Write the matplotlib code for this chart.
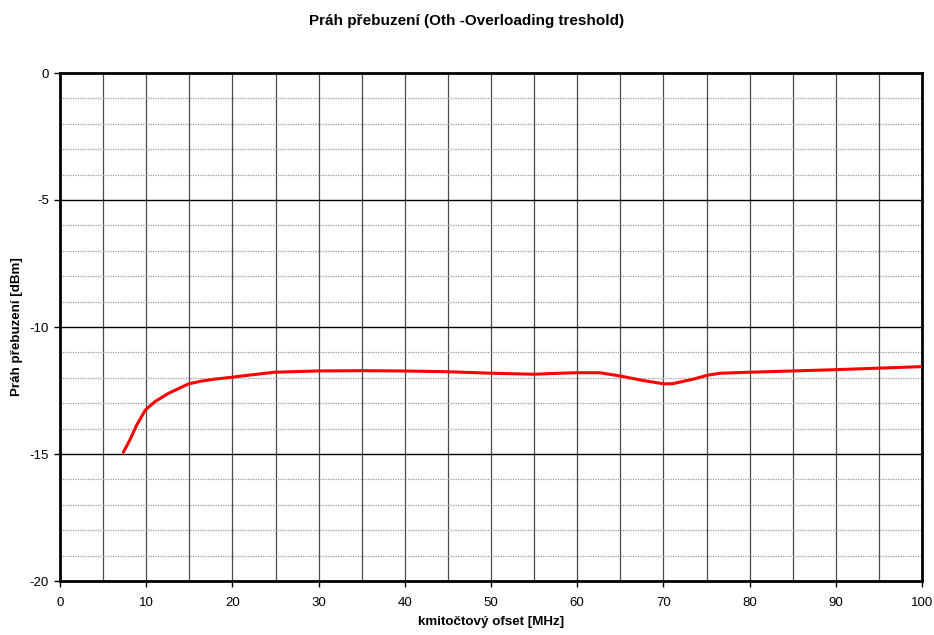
import numpy as np
import matplotlib.pyplot as plt
from matplotlib.ticker import MultipleLocator

plt.rcParams['font.family'] = ['Liberation Sans', 'DejaVu Sans']
plt.rcParams['axes.unicode_minus'] = False

# odečtené hodnoty z grafu
offset_mhz = [7.35, 8.1, 8.9, 9.9, 11.0, 12.6, 14.9, 16.4, 18.0, 19.9, 21.3, 24.9, 30, 35,
              39.4, 45, 50, 55, 58, 60, 62.6, 65, 67.7, 70.1, 71.1, 73.5, 75.1, 76.6, 80.1,
              90, 100]
prah_dbm = [-14.93, -14.45, -13.86, -13.27, -12.94, -12.61, -12.24, -12.13, -12.05, -11.98,
            -11.92, -11.78, -11.73, -11.72, -11.73, -11.76, -11.82, -11.86, -11.82, -11.8,
            -11.8, -11.93, -12.11, -12.24, -12.23, -12.05, -11.9, -11.82, -11.78, -11.68,
            -11.56]

fig = plt.figure(figsize=(9.34, 6.35), dpi=100)
ax = fig.add_axes([60/934, 1 - 581/635, 862/934, 508/635])

# mřížka
for xv in np.arange(5, 100, 5):
    ax.axvline(xv, color='#4a4a4a', lw=0.9, zorder=1)
for yv in np.arange(-19, 0, 1):
    if yv % 5 == 0:
        ax.axhline(yv, color='black', lw=1.0, zorder=1)
    else:
        ax.axhline(yv, color='#999999', lw=0.9, ls=(0, (1, 1)), zorder=1)

ax.plot(offset_mhz, prah_dbm, color='#ff0000', lw=2.2, zorder=3,
        solid_joinstyle='round', solid_capstyle='round')

ax.set_xlim(0, 100)
ax.set_ylim(-20, 0)
ax.xaxis.set_major_locator(MultipleLocator(10))
ax.yaxis.set_major_locator(MultipleLocator(5))
ax.tick_params(direction='out', length=4, width=1, labelsize=9.5)
ax.tick_params(axis='x', pad=7.5)
ax.tick_params(axis='y', pad=4)

for s in ax.spines.values():
    s.set_linewidth(2)

ax.set_xlabel('kmitočtový ofset [MHz]', fontsize=9.6, fontweight='bold', labelpad=5)
ax.set_ylabel('Práh přebuzení [dBm]', fontsize=9.6, fontweight='bold', labelpad=5)
fig.text(0.5, 1 - 21/635, 'Práh přebuzení (Oth -Overloading treshold)', ha='center', va='center',
         fontsize=11, fontweight='bold')

fig.savefig('out.png', dpi=100)
